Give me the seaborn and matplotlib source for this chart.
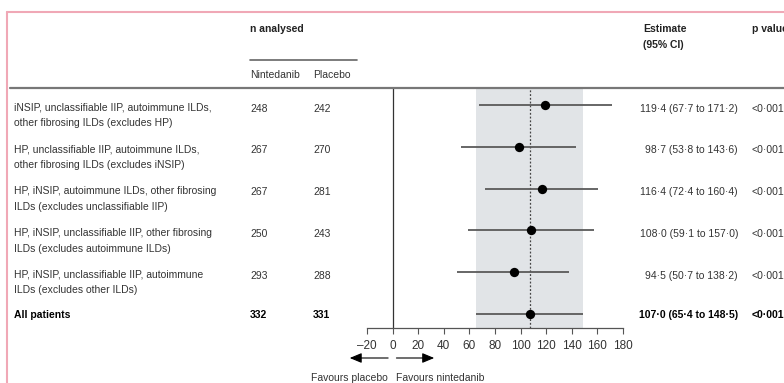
import numpy as np
import pandas as pd
import seaborn as sns
import matplotlib.pyplot as plt
from matplotlib import transforms
from matplotlib.lines import Line2D

# data
labels = [
    "iNSIP, unclassifiable IIP, autoimmune ILDs,\nother fibrosing ILDs (excludes HP)",
    "HP, unclassifiable IIP, autoimmune ILDs,\nother fibrosing ILDs (excludes iNSIP)",
    "HP, iNSIP, autoimmune ILDs, other fibrosing\nILDs (excludes unclassifiable IIP)",
    "HP, iNSIP, unclassifiable IIP, other fibrosing\nILDs (excludes autoimmune ILDs)",
    "HP, iNSIP, unclassifiable IIP, autoimmune\nILDs (excludes other ILDs)",
    "All patients",
]
n_nintedanib = [248, 267, 267, 250, 293, 332]
n_placebo = [242, 270, 281, 243, 288, 331]
estimate = [119.4, 98.7, 116.4, 108.0, 94.5, 107.0]
ci_low = [67.7, 53.8, 72.4, 59.1, 50.7, 65.4]
ci_high = [171.2, 143.6, 160.4, 157.0, 138.2, 148.5]
p_values = ["<0·001"] * 6
xticks = [-20, 0, 20, 40, 60, 80, 100, 120, 140, 160, 180]

df = pd.DataFrame({"row": range(len(labels)), "est": estimate,
                   "lo": ci_low, "hi": ci_high})

sns.set_theme(style="white")
plt.rcParams['font.family'] = ['Liberation Sans Narrow', 'Liberation Sans', 'DejaVu Sans']

W, H = 784, 383
fig = plt.figure(figsize=(W / 100, H / 100), dpi=100)

def fx(px):
    return px / W

def fy(py):
    return 1 - py / H

ax = fig.add_axes([fx(367), fy(328), fx(623) - fx(367), fy(88) - fy(328)])

# shaded band = CI of all patients, dashed line = overall estimate
ax.axvspan(ci_low[-1], ci_high[-1], color="#e1e4e7", zorder=0, lw=0)
ax.axvline(estimate[-1], color="#444444", ls=(0, (1.5, 1.5)), lw=0.9, zorder=1)
ax.axvline(0, color="#333333", lw=0.9, zorder=1)

ax.hlines(df["row"], df["lo"], df["hi"], color="#5a5a5a", lw=1.3, zorder=2)
sns.scatterplot(data=df, x="est", y="row", color="black", s=45,
                edgecolor="black", linewidth=0, zorder=3, ax=ax, legend=False)

ax.set_xlim(-20, 180)
ax.set_ylim(5.335, -0.407)
ax.set_xticks(xticks)
ax.set_xticklabels([("–" + str(-t)) if t < 0 else str(t) for t in xticks])
ax.set_yticks([])
ax.set_xlabel("")
ax.set_ylabel("")
for s in ["top", "right", "left"]:
    ax.spines[s].set_visible(False)
ax.spines["bottom"].set_color("#555555")
ax.spines["bottom"].set_linewidth(0.9)
ax.tick_params(axis="x", direction="out", length=4, width=0.8, color="#555555",
               pad=4.5, labelsize=8.5, labelcolor="#333333", bottom=True)

# arrows and favours labels below the axis
xt = ax.get_xaxis_transform()
ax.annotate("", xy=(-33.5, -0.125), xytext=(-3.5, -0.125), xycoords=xt,
            textcoords=xt, annotation_clip=False,
            arrowprops=dict(arrowstyle="-|>,head_length=0.6,head_width=0.25",
                            color="black", lw=0.8, shrinkA=0, shrinkB=0))
ax.annotate("", xy=(32.5, -0.125), xytext=(3, -0.125), xycoords=xt,
            textcoords=xt, annotation_clip=False,
            arrowprops=dict(arrowstyle="-|>,head_length=0.6,head_width=0.25",
                            color="black", lw=0.8, shrinkA=0, shrinkB=0))
ax.text(-3.5, -0.21, "Favours placebo", transform=xt, ha="right", va="center",
        fontsize=7.5, color="#333333")
ax.text(3, -0.21, "Favours nintedanib", transform=xt, ha="left", va="center",
        fontsize=7.5, color="#333333")

# table columns: x in figure fraction, y in data rows
tr = transforms.blended_transform_factory(fig.transFigure, ax.transData)
for i, lab in enumerate(labels):
    bold = i == len(labels) - 1
    w = "bold" if bold else "normal"
    c = "black" if bold else "#333333"
    off_lab = 0.0 if bold else 0.16
    off = 0.0 if bold else 0.06
    est_txt = f"{estimate[i]:.1f} ({ci_low[i]:.1f} to {ci_high[i]:.1f})".replace(".", "·")
    ax.text(fx(14), i + off_lab, lab, transform=tr, ha="left", va="center_baseline",
            fontsize=7.5, color=c, weight=w, linespacing=1.7, clip_on=False)
    ax.text(fx(250), i + off, str(n_nintedanib[i]), transform=tr, ha="left",
            va="center_baseline", fontsize=7.5, color=c, weight=w, clip_on=False)
    ax.text(fx(313), i + off, str(n_placebo[i]), transform=tr, ha="left",
            va="center_baseline", fontsize=7.5, color=c, weight=w, clip_on=False)
    ax.text(fx(738), i + off, est_txt, transform=tr, ha="right",
            va="center_baseline", fontsize=7.5, color=c, weight=w, clip_on=False)
    ax.text(fx(752), i + off, p_values[i], transform=tr, ha="left",
            va="center_baseline", fontsize=7.5, color=c, weight=w, clip_on=False)

# header
hk = dict(fontsize=7.5, weight="bold", color="#222222", va="center")
fig.text(fx(250), fy(29), "n analysed", **hk)
fig.text(fx(643), fy(29), "Estimate", **hk)
fig.text(fx(643), fy(45), "(95% CI)", **hk)
fig.text(fx(752), fy(29), "p value", **hk)
fig.text(fx(250), fy(75), "Nintedanib", fontsize=7.5, color="#333333", va="center")
fig.text(fx(313), fy(75), "Placebo", fontsize=7.5, color="#333333", va="center")

fig.add_artist(Line2D([fx(250), fx(357)], [fy(60), fy(60)], color="#666666", lw=1.2))
fig.add_artist(Line2D([fx(10), 1], [fy(88), fy(88)], color="#777777", lw=1.6))

# pink page frame
fig.add_artist(Line2D([fx(7), 1], [fy(12), fy(12)], color="#f0a8b6", lw=1.5))
fig.add_artist(Line2D([fx(7), fx(7)], [fy(12), 0], color="#f0a8b6", lw=1.5))

fig.savefig("out.png", dpi=100)
